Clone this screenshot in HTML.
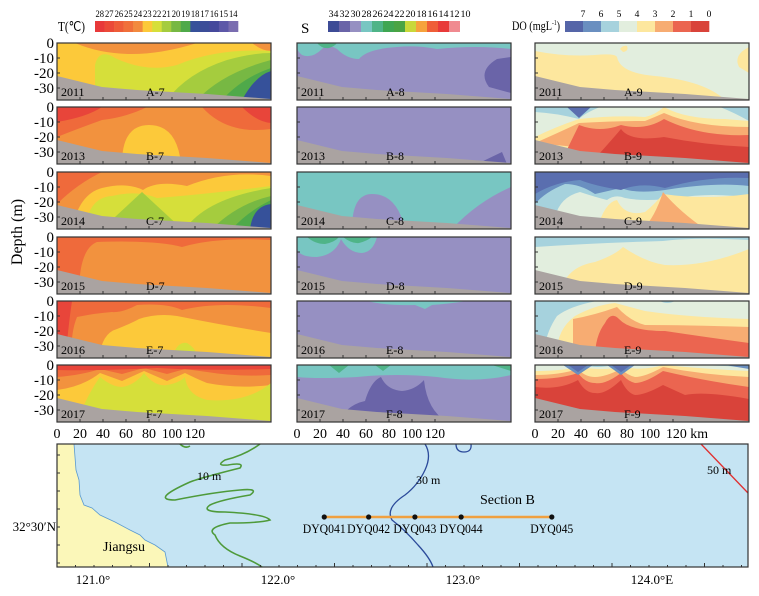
<!DOCTYPE html>
<html><head><meta charset="utf-8">
<style>
html,body{margin:0;padding:0;background:#fff;}
svg{display:block;font-family:"Liberation Serif",serif;}
</style></head>
<body>
<svg id="fig" width="759" height="596" viewBox="0 0 759 596" xmlns="http://www.w3.org/2000/svg">
<defs>
<clipPath id="pc"><rect x="0" y="0" width="214" height="57"/></clipPath>
</defs>

<g id="legT">
<text x="58" y="31" font-size="14" textLength="27" lengthAdjust="spacingAndGlyphs">T(℃)</text>
</g>
<g id="legS">
<text x="301" y="33" font-size="15">S</text>
</g>
<g id="legD">
<text x="512" y="30" font-size="13" textLength="48" lengthAdjust="spacingAndGlyphs">DO (mgL<tspan font-size="7" dy="-5">-1</tspan><tspan dy="5">)</tspan></text>
</g>

<text transform="translate(22,232) rotate(-90)" text-anchor="middle" font-size="16">Depth (m)</text>

<g transform="translate(57,43)"><g clip-path="url(#pc)">
<rect width="214" height="57" fill="#fcc93a"/>
<path d="M18,0 Q70,22 140,0Z" fill="#f2923e"/>
<path d="M195,0 Q205,8 214,8 V0Z" fill="#f2923e"/>
<path d="M38,57 L38,22 Q42,5 58,15 Q90,30 120,22 Q160,5 214,8 V57Z" fill="#d6df3a"/>
<path d="M110,57 Q130,30 170,17 Q195,10 214,10 V57Z" fill="#a5cc3e"/>
<path d="M140,57 Q165,30 214,17 V57Z" fill="#77b843"/>
<path d="M165,57 Q185,35 214,25 V57Z" fill="#4fa94a"/>
<path d="M185,57 Q198,33 214,28 V57Z" fill="#36519a"/>
</g></g>
<g transform="translate(57,107)"><g clip-path="url(#pc)">
<rect width="214" height="57" fill="#f2923e"/>
<path d="M0,0 H90 Q70,10 45,13 Q20,22 0,30Z" fill="#ef6a3b"/>
<path d="M0,0 H45 Q30,10 0,15Z" fill="#e8453a"/>
<path d="M145,0 Q170,28 214,22 V0Z" fill="#ef6a3b"/>
<path d="M185,0 Q200,15 214,16 V0Z" fill="#e8453a"/>
<path d="M65,57 Q65,18 92,18 Q120,18 124,57Z" fill="#fcc93a"/>
</g></g>
<g transform="translate(57,172)"><g clip-path="url(#pc)">
<rect width="214" height="57" fill="#f2923e"/>
<path d="M0,0 H45 Q20,12 0,32Z" fill="#ef6a3b"/>
<path d="M15,57 Q22,22 45,16 Q70,10 86,18 Q100,8 130,14 Q170,-2 214,4 V57Z" fill="#fcc93a"/>
<path d="M28,57 Q32,25 55,24 Q80,18 100,26 Q150,22 214,14 V57Z" fill="#d6df3a"/>
<path d="M45,57 L85,20 L125,57Z" fill="#a5cc3e"/>
<path d="M128,57 Q150,26 214,16 V57Z" fill="#a5cc3e"/>
<path d="M155,57 Q180,32 214,24 V57Z" fill="#77b843"/>
<path d="M175,57 Q190,40 214,28 V57Z" fill="#4fa94a"/>
<path d="M193,57 Q196,34 214,32 V57Z" fill="#36519a"/>
</g></g>
<g transform="translate(57,237)"><g clip-path="url(#pc)">
<rect width="214" height="57" fill="#f2923e"/>
<path d="M0,0 H214 V3 Q160,0 125,10 Q100,3 40,5 Q22,12 22,57 L0,57Z" fill="#ef6a3b"/>
</g></g>
<g transform="translate(57,301)"><g clip-path="url(#pc)">
<rect width="214" height="57" fill="#f2923e"/>
<path d="M0,0 H214 V7 Q160,0 125,9 Q110,2 80,4 Q65,12 55,11 Q40,12 20,16 Q14,30 14,57 L0,57Z" fill="#ef6a3b"/>
<path d="M0,0 H15 Q12,20 10,42 L0,42Z" fill="#e8453a"/>
<path d="M42,57 Q45,32 60,28 Q75,22 82,18 Q100,12 120,15 Q170,25 214,32 V57Z" fill="#fcc93a"/>
<path d="M115,57 Q120,40 130,42 Q140,48 140,57Z" fill="#d6df3a"/>
</g></g>
<g transform="translate(57,365)"><g clip-path="url(#pc)">
<rect width="214" height="57" fill="#fcc93a"/>
<path d="M0,0 H214 V20 Q180,24 150,18 Q140,14 128,8 L110,16 L87,6 L65,16 L43,8 Q25,22 0,25Z" fill="#f2923e"/>
<path d="M0,0 H214 V10 Q180,12 150,7 L128,4 L110,9 L87,3 L65,9 L43,4 Q25,10 0,12Z" fill="#ef6a3b"/>
<path d="M0,0 H214 V4 Q150,6 100,3 Q40,6 0,5Z" fill="#e8453a"/>
<path d="M20,57 Q30,30 43,12 Q55,22 65,22 Q78,20 87,8 Q98,22 110,20 Q122,18 128,12 Q130,30 150,35 Q190,38 214,18 V57Z" fill="#d6df3a"/>
</g></g>

<g transform="translate(297,43)"><g clip-path="url(#pc)">
<rect width="214" height="57" fill="#9690c2"/>
<path d="M0,0 H214 V6 Q180,2 140,6 Q120,2 100,4 Q70,6 62,16 Q50,16 40,6 Q30,0 25,6 Q15,16 5,12 Q0,8 0,4Z" fill="#78c6c2"/>
<path d="M20,0 Q25,6 32,5 Q38,3 40,0Z" fill="#4fb488"/>
<path d="M200,16 Q180,28 192,44 L214,50 V14Z" fill="#6a64a8"/>
</g></g>
<g transform="translate(297,107)"><g clip-path="url(#pc)">
<rect width="214" height="57" fill="#9690c2"/>
<path d="M180,57 L205,45 L210,57Z" fill="#6a64a8"/>
</g></g>
<g transform="translate(297,172)"><g clip-path="url(#pc)">
<rect width="214" height="57" fill="#78c6c2"/>
<path d="M55,57 Q55,22 75,22 Q100,22 108,57Z" fill="#9690c2"/>
<path d="M155,57 Q180,30 214,15 V57Z" fill="#9690c2"/>
</g></g>
<g transform="translate(297,237)"><g clip-path="url(#pc)">
<rect width="214" height="57" fill="#9690c2"/>
<path d="M0,0 H80 Q76,15 65,16 Q52,16 44,2 Q38,18 20,20 Q0,20 0,10Z" fill="#78c6c2"/>
<path d="M10,0 Q18,7 28,7 Q38,5 42,0Z M46,0 Q55,7 62,6 Q70,4 75,0Z" fill="#4fb488"/>
</g></g>
<g transform="translate(297,301)"><g clip-path="url(#pc)">
<rect width="214" height="57" fill="#9690c2"/>
<path d="M70,0 H170 Q150,3 135,4 L128,8 L118,4 Q90,5 70,0Z" fill="#78c6c2"/>
</g></g>
<g transform="translate(297,365)"><g clip-path="url(#pc)">
<rect width="214" height="57" fill="#9690c2"/>
<path d="M0,0 H214 V10 Q180,18 140,12 Q100,8 60,12 Q20,14 0,12Z" fill="#78c6c2"/>
<path d="M32,0 L42,8 L52,0Z M78,0 L86,6 L94,0Z M195,0 L214,6 V0Z" fill="#4fb488"/>
<path d="M50,45 Q58,38 68,36 Q74,16 84,12 Q90,25 105,26 Q118,25 127,15 Q130,45 150,57 L50,57Z" fill="#6a64a8"/>
</g></g>

<g transform="translate(535,43)"><g clip-path="url(#pc)">
<rect width="214" height="57" fill="#e2eede"/>
<path d="M0,30 V8 Q30,14 60,12 Q80,10 82,14 Q85,30 120,33 Q170,38 190,57 L0,57Z" fill="#fde79e"/>
<path d="M204,24 Q198,12 214,4 V30Z" fill="#fde79e"/>
<path d="M85,6 Q88,2 92,3 Q94,8 88,9Z" fill="#fde79e"/>
</g></g>
<g transform="translate(535,107)"><g clip-path="url(#pc)">
<rect width="214" height="57" fill="#e2eede"/>
<path d="M0,0 H65 Q50,6 44,12 Q20,6 0,5Z" fill="#a6d2dd"/>
<path d="M32,0 L44,11 L56,0Z" fill="#5a6eaf"/>
<path d="M185,0 H214 V14 Q200,6 185,0Z" fill="#a6d2dd"/>
<path d="M0,30 Q20,20 44,12 Q80,8 110,10 Q120,8 129,0 Q150,12 190,12 L214,14 V57 L0,57Z" fill="#fde79e"/>
<path d="M0,36 Q25,25 44,16 Q80,14 110,14 Q120,10 129,6 Q160,20 214,20 V57Z" fill="#f7ac72"/>
<path d="M25,57 L44,18 Q65,26 86,18 Q110,24 129,12 Q165,30 214,28 V57Z" fill="#eb6550"/>
<path d="M55,57 Q75,35 86,22 Q95,35 129,30 Q170,38 214,40 V57Z" fill="#d9433a"/>
</g></g>
<g transform="translate(535,172)"><g clip-path="url(#pc)">
<rect width="214" height="57" fill="#e2eede"/>
<path d="M0,0 H214 V26 Q180,20 140,26 Q110,30 90,26 Q80,22 72,28 Q60,25 45,20 Q25,25 20,45 L0,45Z" fill="#a6d2dd"/>
<path d="M0,0 H214 V14 Q180,10 130,18 Q100,22 86,16 L60,22 Q45,12 30,12 Q10,20 0,32Z" fill="#6a8fc0"/>
<path d="M0,0 H214 V6 Q170,4 130,16 Q105,10 86,18 Q60,14 45,8 Q20,10 0,22Z" fill="#5a6eaf"/>
<path d="M62,57 Q70,30 82,28 Q90,45 110,40 Q120,32 128,22 Q170,28 214,22 V57Z" fill="#fde79e"/>
<path d="M108,57 Q120,45 128,20 Q145,40 170,57Z" fill="#f7ac72"/>
</g></g>
<g transform="translate(535,237)"><g clip-path="url(#pc)">
<rect width="214" height="57" fill="#e2eede"/>
<path d="M0,0 H214 V3 Q160,0 128,4 Q60,6 0,10Z" fill="#a6d2dd"/>
<path d="M25,57 Q30,30 60,25 Q80,18 88,10 Q110,25 130,28 Q170,30 214,12 V57Z" fill="#fde79e"/>
</g></g>
<g transform="translate(535,301)"><g clip-path="url(#pc)">
<rect width="214" height="57" fill="#e2eede"/>
<path d="M0,0 H62 Q35,5 22,15 Q12,30 10,45 L0,45Z" fill="#a6d2dd"/>
<path d="M125,0 H140 Q132,4 125,0Z" fill="#a6d2dd"/>
<path d="M22,57 Q20,30 40,15 Q60,4 80,2 Q95,6 110,10 Q150,16 214,18 V57Z" fill="#fde79e"/>
<path d="M38,57 L38,18 Q60,14 82,6 Q95,20 110,24 Q150,24 214,26 V57Z" fill="#f7ac72"/>
<path d="M60,57 Q60,35 70,22 Q76,10 84,18 Q95,30 130,30 Q170,36 214,42 V57Z" fill="#eb6550"/>
</g></g>
<g transform="translate(535,365)"><g clip-path="url(#pc)">
<rect width="214" height="57" fill="#d9433a"/>
<path d="M0,0 H214 V34 Q170,26 150,30 L128,20 Q110,30 100,30 Q92,28 86,15 Q70,30 60,28 Q50,28 43,15 Q25,25 0,22Z" fill="#eb6550"/>
<path d="M0,0 H214 V22 Q170,16 128,6 Q110,18 100,18 Q92,16 86,8 Q70,20 60,18 Q50,18 43,8 Q25,14 0,14Z" fill="#f7ac72"/>
<path d="M0,0 H214 V12 Q170,10 128,2 Q110,12 100,12 Q92,10 86,4 Q70,12 60,12 Q50,12 43,4 Q25,10 0,10Z" fill="#fde79e"/>
<path d="M0,0 H214 V6 Q170,4 128,0 Q110,6 86,2 Q70,6 43,2 Q25,6 0,6Z" fill="#e2eede"/>
<path d="M0,0 H214 V3 Q190,0 140,0 Q110,2 86,0 L80,0 Q60,4 50,0 Q43,4 35,0Z" fill="#a6d2dd"/>
<path d="M28,0 L43,10 L58,0Z M72,0 L86,10 L100,0Z M190,0 L214,4 V0Z" fill="#6a8fc0"/>
<path d="M33,0 L43,7 L53,0Z M76,0 L86,7 L96,0Z" fill="#5a6eaf"/>
</g></g>

<g id="overlays"></g>

<g>
<rect x="57" y="444" width="691" height="123" fill="#c5e4f3"/>
<path d="M57,444 L74,444 L76,470 L79,480 L80,495 L84,505 L92,508 L100,515 L115,522 L130,530 L140,535 L145,540 L155,545 L165,552 L168,567 L57,567Z" fill="#fbf7b9" stroke="#5a9ad0" stroke-width="0.8"/>
<path d="M180,444 Q185,449 190,446 M260,444 Q245,455 225,460 Q215,466 228,465 Q245,462 240,468 Q200,478 190,482 Q150,500 175,500 Q215,492 240,490 Q260,488 250,495 Q220,500 210,505 Q200,512 225,512 Q265,514 270,520 Q260,523 230,523 Q205,528 215,535 Q220,548 240,556 Q255,562 262,567" fill="none" stroke="#4e9a3a" stroke-width="1.6"/>
<path d="M425,444 Q432,455 425,470 Q418,485 405,495 Q385,508 392,520 Q405,530 418,545 Q430,558 433,567" fill="none" stroke="#2b4a9a" stroke-width="1.3"/>
<path d="M456,444 Q456,452 464,452 Q472,452 471,444" fill="none" stroke="#2b4a9a" stroke-width="1.3"/>
<path d="M701,444 L748,493" fill="none" stroke="#e03030" stroke-width="1.3"/>
<text x="197" y="480" font-size="12">10 m</text>
<text x="416" y="484" font-size="12">30 m</text>
<text x="707" y="474" font-size="12">50 m</text>
<text x="480" y="504" font-size="14">Section B</text>
<text x="103" y="551" font-size="14">Jiangsu</text>
<g id="stations"></g>
<rect x="57" y="444" width="691" height="123" fill="none" stroke="#333" stroke-width="1.2"/>
<g id="mapticks"></g>
<text x="56" y="531" font-size="13" text-anchor="end">32°30′N</text>
</g>
</svg>

<script>
var tColors=["#e8393a","#eb4a38","#ee5d38","#f0703a","#f28a3e","#fcc93a","#d6df3a","#a5cc3e","#77b843","#4fa94a","#36519a","#3b4d98","#45499c","#5d58a8","#7a6db0"];
var tLabels=["28","27","26","25","24","23","22","21","20","19","18","17","16","15","14"];
var sColors=["#3d4b96","#6a64a8","#9690c2","#78c6c2","#4fb488","#3fa652","#4aa444","#c9d83a","#f6a23c","#ef5e38","#e83a3a","#f08a90","#ffffff"];
var sLabels=["34","32","30","28","26","24","22","20","18","16","14","12","10"];
var dColors=["#5565a8","#6a8fc0","#a6d2dd","#e2eede","#fde79e","#f7ac72","#eb6550","#d9433a"];
var dLabels=["7","6","5","4","3","2","1","0"];
var distTicks=[0,20,40,60,80,100,120];
var depthTicks=[0,-10,-20,-30];
var years=["2011","2013","2014","2015","2016","2017"];
var rowLetters=["A","B","C","D","E","F"];
var lonTicks=[121,122,123,124];
var stationNames=["DYQ041","DYQ042","DYQ043","DYQ044","DYQ045"];
var stationLon=[122.25,122.49,122.74,122.99,123.48];

var NS="http://www.w3.org/2000/svg";
var svg=document.getElementById('fig');
function mk(tag,attrs,parent){var e=document.createElementNS(NS,tag);for(var k in attrs)e.setAttribute(k,attrs[k]);(parent||svg).appendChild(e);return e;}

function legend(gid,colors,labels,x0,w,y0,labelAtBoundary,fs){
  var g=document.getElementById(gid);var cw=w/colors.length;
  for(var i=0;i<colors.length;i++){
    var r=mk('rect',{x:x0+i*cw,y:y0,width:cw+0.3,height:11,fill:colors[i]},g);
    
    
    var lx=labelAtBoundary? x0+(i+1)*cw : x0+(i+0.5)*cw;
    var t=mk('text',{x:lx,y:y0-4,'font-size':fs,'text-anchor':'middle'},g);t.textContent=labels[i];
    if(labels[i].length>1){t.setAttribute('textLength',Math.min(cw-1,10));t.setAttribute('lengthAdjust','spacingAndGlyphs');}
    
    
  }
}
legend('legT',tColors,tLabels,95,143,21,false,9);
legend('legS',sColors,sLabels,328,143,21,false,9);
legend('legD',dColors,dLabels,565,144,21,true,9.5);

var colX=[57,297,535];var rowY=[43,107,172,237,301,365];var PW=214,PH=57;
function xs(km){return km*1.15;}
function ys(d){return -d*1.5;}
var ov=document.getElementById('overlays');
for(var r=0;r<6;r++){
  for(var c=0;c<3;c++){
    var g=mk('g',{transform:'translate('+colX[c]+','+rowY[r]+')'},ov);
    var sb=mk('path',{d:'M0,33 L45,44 L80,47 L150,51 L214,56 L214,57 L0,57Z',fill:'#aaa3a1'},g);
    
    
    mk('rect',{x:0,y:0,width:PW,height:PH,fill:'none',stroke:'#333','stroke-width':1.2},g);
    distTicks.forEach(function(k){if(k>0)mk('line',{x1:xs(k),x2:xs(k),y1:PH,y2:PH-3,stroke:'#333','stroke-width':1},g);});
    depthTicks.forEach(function(d){if(d<0)mk('line',{x1:0,x2:3,y1:ys(d),y2:ys(d),stroke:'#333','stroke-width':1},g);});
    var yt=mk('text',{x:4,y:53,'font-size':12},g);yt.textContent=years[r];
    
    
    var st=mk('text',{x:89,y:53,'font-size':12},g);st.textContent=rowLetters[r]+'-'+(7+c);
    
    
    if(c==0){depthTicks.forEach(function(d){var t=mk('text',{x:-3,y:ys(d)+5,'font-size':15,'text-anchor':'end'},g);t.textContent=String(d);
      
      });}
    if(r==5){distTicks.forEach(function(k,i){var last=(c==2)&&(i==distTicks.length-1);var t=mk('text',{x:xs(k)+(last?14:0),y:PH+16,'font-size':14,'text-anchor':'middle'},g);t.textContent=last?'120 km':String(k);
      if(k>=100){t.setAttribute('textLength',last?42:20);t.setAttribute('lengthAdjust','spacingAndGlyphs');}
      
      });}
  }
}

function lonX(l){return 93+(l-121)*185;}
var mt=document.getElementById('mapticks');
for(var m=0;m<=37;m++){var lx=57+m*18.5;if(lx>748)break;mk('line',{x1:lx,x2:lx,y1:567,y2:(m%5==0)?563:565,stroke:'#333'},mt);}
for(var yy=455;yy<567;yy+=18){mk('line',{x1:57,x2:60,y1:yy,y2:yy,stroke:'#333'},mt);}
lonTicks.forEach(function(l,i){var last=(i==lonTicks.length-1);var t=mk('text',{x:lonX(l)+(last?4:0),y:584,'font-size':13,'text-anchor':'middle'},mt);t.textContent=l.toFixed(1)+'°'+(last?'E':'');
  
  });

var sg=document.getElementById('stations');
var ln=mk('line',{x1:lonX(stationLon[0]),x2:lonX(stationLon[stationLon.length-1]),y1:517,y2:517,stroke:'#f0a040','stroke-width':2.5},sg);


stationLon.forEach(function(l,i){
  var d=mk('circle',{cx:lonX(l),cy:517,r:2.6,fill:'#111'},sg);
  
  
  var t=mk('text',{x:lonX(l),y:533,'font-size':13,'text-anchor':'middle',textLength:43,lengthAdjust:'spacingAndGlyphs'},sg);t.textContent=stationNames[i];
  
  
});
</script>
</body></html>
